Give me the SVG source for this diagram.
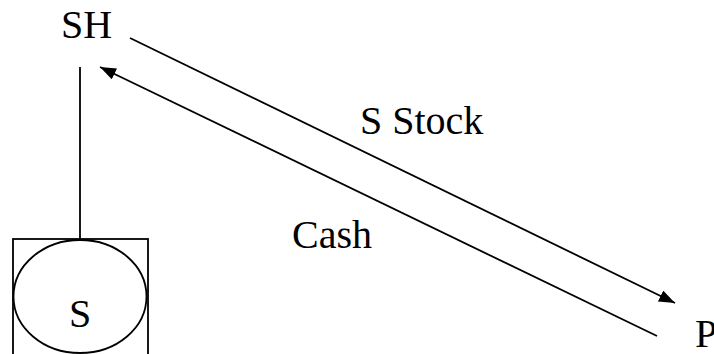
<svg xmlns="http://www.w3.org/2000/svg" width="714" height="354" viewBox="0 0 714 354">
<style>
text{font-family:"Liberation Serif","Times New Roman",serif;font-size:40px;fill:#000}
.ln{stroke:#000;stroke-width:1.8;fill:none}
</style>
<defs>
<marker id="ah" viewBox="0 0 16 12" refX="16" refY="6" markerWidth="16" markerHeight="12" markerUnits="userSpaceOnUse" orient="auto">
<path d="M0,0 L16,6 L0,12 Z" fill="#000"/>
</marker>
</defs>
<rect width="714" height="354" fill="#fff"/>
<g id="SH"><text x="61" y="38">SH</text></g>
<g id="S">
<rect class="ln" x="13" y="239" width="135" height="120"/>
<ellipse class="ln" cx="80" cy="296.5" rx="66.5" ry="56.5"/>
<text x="80" y="327" text-anchor="middle">S</text>
</g>
<g id="P"><text x="695" y="347">P</text></g>
<g id="connectors">
<line class="ln" x1="130" y1="38" x2="675" y2="303" marker-end="url(#ah)"/>
<line class="ln" x1="657" y1="336" x2="100" y2="67" marker-end="url(#ah)"/>
<line class="ln" x1="80" y1="67" x2="80" y2="239"/>
<text x="360" y="134">S Stock</text>
<text x="292" y="248">Cash</text>
</g>
</svg>
